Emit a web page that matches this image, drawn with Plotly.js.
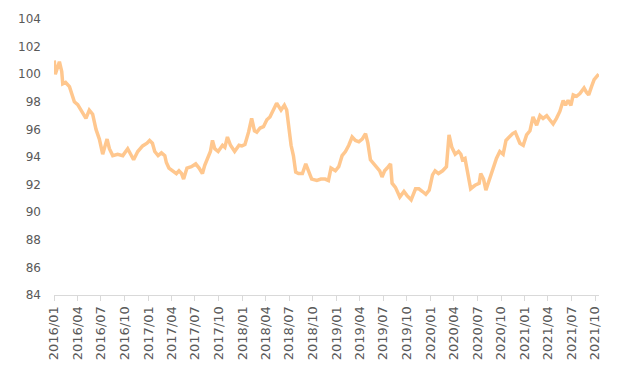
<!DOCTYPE html>
<html>
<head>
<meta charset="utf-8">
<script src="https://cdn.plot.ly/plotly-3.0.1.min.js"></script>
<style>html,body{margin:0;padding:0;background:#fff;}#chart{width:620px;height:368px;}</style>
</head>
<body>
<div id="chart"></div>
<script>
// Dates and index values
const dates = [
"2016-01-02","2016-01-06","2016-01-22","2016-01-31","2016-02-04","2016-02-15","2016-03-01","2016-03-14","2016-03-20","2016-04-02",
"2016-04-15","2016-05-04","2016-05-17","2016-05-30","2016-06-12","2016-06-25","2016-07-08","2016-07-25","2016-08-03","2016-08-16",
"2016-09-04","2016-09-24","2016-10-13","2016-10-26","2016-11-05","2016-11-21","2016-12-10","2016-12-27",
"2017-01-06","2017-01-17","2017-01-26","2017-02-08","2017-02-21","2017-03-06","2017-03-12","2017-03-22","2017-04-07","2017-04-20",
"2017-04-30","2017-05-10","2017-05-18","2017-05-31","2017-06-17","2017-07-04","2017-07-17","2017-07-30","2017-08-08","2017-08-21",
"2017-08-30","2017-09-07","2017-09-16","2017-09-29","2017-10-16","2017-10-25","2017-11-04","2017-11-16","2017-12-02","2017-12-19",
"2017-12-30","2018-01-11","2018-01-25","2018-02-06","2018-02-17","2018-02-26","2018-03-11","2018-03-24","2018-04-06","2018-04-18",
"2018-05-02","2018-05-14","2018-05-31","2018-06-13","2018-06-22","2018-06-29","2018-07-09","2018-07-18","2018-07-27","2018-08-07",
"2018-08-22","2018-09-04","2018-09-15","2018-09-27","2018-10-17","2018-11-02","2018-11-18","2018-12-01","2018-12-11","2018-12-28",
"2019-01-10","2019-01-23","2019-02-05","2019-02-18","2019-03-03","2019-03-16","2019-03-29","2019-04-11","2019-04-24","2019-05-03",
"2019-05-13","2019-05-26","2019-06-08","2019-06-18","2019-06-27","2019-07-07","2019-07-17","2019-07-30","2019-08-05","2019-08-18",
"2019-09-04","2019-09-20","2019-10-02","2019-10-18","2019-11-04","2019-11-17","2019-12-01","2019-12-14","2019-12-27",
"2020-01-09","2020-01-19","2020-02-01","2020-02-17","2020-03-03","2020-03-13","2020-03-24","2020-04-06","2020-04-19","2020-04-28",
"2020-05-04","2020-05-14","2020-05-24","2020-06-05","2020-06-22","2020-07-08","2020-07-14","2020-07-25","2020-08-03","2020-08-16",
"2020-08-31","2020-09-13","2020-09-26","2020-10-09","2020-10-20","2020-11-01","2020-11-15","2020-11-25","2020-12-04","2020-12-13",
"2020-12-26","2021-01-08","2021-01-21","2021-02-02","2021-02-16","2021-03-01","2021-03-13","2021-03-27","2021-04-08","2021-04-21",
"2021-05-04","2021-05-17","2021-05-30","2021-06-08","2021-06-18","2021-06-29","2021-07-08","2021-07-21","2021-08-03","2021-08-19",
"2021-08-28","2021-09-06","2021-09-17","2021-09-27","2021-10-06","2021-10-15"
];
const values = [
101.0,100.0,100.9,100.2,99.3,99.4,99.1,98.2,98.0,97.8,
97.4,96.8,97.4,97.1,96.0,95.3,94.2,95.3,94.6,94.1,
94.2,94.1,94.6,94.1,93.8,94.4,94.8,95.0,
95.2,95.0,94.4,94.1,94.3,94.1,93.6,93.2,93.0,92.8,
93.0,92.8,92.4,93.2,93.3,93.5,93.2,92.8,93.4,94.1,
94.4,95.2,94.6,94.4,94.85,94.7,95.45,94.85,94.4,94.85,
94.8,94.9,95.8,96.8,95.9,95.8,96.1,96.2,96.7,96.9,
97.4,97.9,97.4,97.75,97.4,96.1,94.85,94.1,92.9,92.8,
92.8,93.5,93.0,92.4,92.3,92.4,92.4,92.3,93.2,93.0,
93.3,94.1,94.4,94.85,95.45,95.2,95.1,95.3,95.7,95.0,
93.8,93.5,93.3,93.0,92.55,93.0,93.2,93.5,92.1,91.8,
91.1,91.5,91.2,90.9,91.7,91.7,91.5,91.3,91.6,
92.7,93.0,92.8,93.0,93.3,95.6,94.7,94.2,94.4,94.2,
93.8,93.9,93.0,91.7,91.95,92.1,92.8,92.4,91.6,92.3,
93.2,93.9,94.4,94.2,95.2,95.45,95.7,95.8,95.45,95.0,
94.85,95.6,95.9,96.9,96.3,97.0,96.8,97.0,96.7,96.4,
96.8,97.3,98.1,97.75,98.1,97.75,98.5,98.4,98.6,99.0,
98.7,98.5,99.1,99.6,99.8,100.0
];
const xRange = ["2016-01-01","2021-10-16"];
const yRange = [84, 104];

const trace = {
  x: dates, y: values, type: "scatter", mode: "lines",
  line: {color: "#FFC78E", width: 3.5},
  hoverinfo: "skip"
};

const layout = {
  width: 620, height: 368,
  margin: {l: 54, r: 21, t: 19, b: 73},
  paper_bgcolor: "#fff", plot_bgcolor: "#fff",
  showlegend: false,
  font: {family: "DejaVu Sans", color: "#595959"},
  xaxis: {
    type: "date", range: xRange,
    tick0: "2016-01-01", dtick: "M3", tickformat: "%Y/%m",
    tickangle: -90, tickfont: {size: 13, color: "#595959"},
    showgrid: false, zeroline: false,
    showline: true, linecolor: "#d9d9d9", linewidth: 1,
    ticks: "outside", ticklen: 5, tickcolor: "#d9d9d9"
  },
  yaxis: {
    range: yRange, dtick: 2, tick0: 84,
    tickfont: {size: 12, color: "#595959"},
    showgrid: false, zeroline: false, showline: false,
    ticks: "", ticklabelstandoff: 12
  }
};

Plotly.newPlot("chart", [trace], layout, {staticPlot: true, displayModeBar: false});
</script>
</body>
</html>
